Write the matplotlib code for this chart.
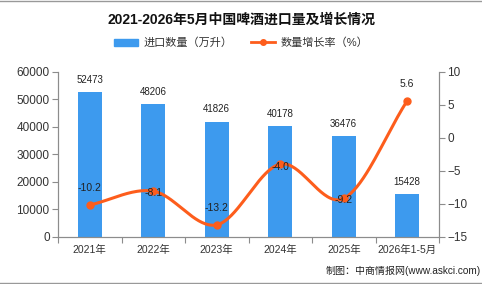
import numpy as np
import matplotlib.pyplot as plt
from matplotlib.lines import Line2D
from matplotlib.patches import Patch

plt.rcParams['font.family'] = ['Liberation Sans', 'Noto Sans CJK SC', 'DejaVu Sans']

# data
years = ['2021年', '2022年', '2023年', '2024年', '2025年', '2026年1-5月']
volume = [52473, 48206, 41826, 40178, 36476, 15428]
growth = [-10.2, -8.1, -13.2, -4.0, -9.2, 5.6]

bar_color = '#3d9aee'
line_color = '#fd5d1c'
axis_color = '#8c8c8c'
text_color = '#333333'

fig = plt.figure(figsize=(4.82, 2.84), dpi=100)
ax = fig.add_axes([58 / 482, 1 - 236.7 / 284, 381 / 482, 165 / 284])
ax2 = ax.twinx()

x = np.arange(len(years))
ax.bar(x, volume, width=0.38, color=bar_color, zorder=2)
for xi, v in zip(x, volume):
    ax.annotate(str(v), (xi, v), xytext=(0, 9), textcoords='offset points',
                ha='center', va='center', fontsize=7, color='#222222')

# smooth line through growth points (catmull-rom)
def smooth(xs, ys, n=40):
    xs = np.asarray(xs, float)
    ys = np.asarray(ys, float)
    px = np.concatenate([[2 * xs[0] - xs[1]], xs, [2 * xs[-1] - xs[-2]]])
    py = np.concatenate([[2 * ys[0] - ys[1]], ys, [2 * ys[-1] - ys[-2]]])
    ox, oy = [], []
    for i in range(1, len(px) - 2):
        t = np.linspace(0, 1, n)
        for arr, out in ((px, ox), (py, oy)):
            p0, p1, p2, p3 = arr[i - 1], arr[i], arr[i + 1], arr[i + 2]
            out.extend(0.5 * ((2 * p1) + (-p0 + p2) * t
                              + (2 * p0 - 5 * p1 + 4 * p2 - p3) * t ** 2
                              + (-p0 + 3 * p1 - 3 * p2 + p3) * t ** 3))
    return np.array(ox), np.array(oy)

sx, sy = smooth(x, growth)
ax2.plot(sx, sy, color=line_color, lw=2.2, zorder=3)
ax2.plot(x, growth, 'o', color=line_color, ms=5, zorder=4)

label_off = [12, -1, 12, -2, -1, 12]
for xi, g, off in zip(x, growth, label_off):
    ax2.annotate(f'{g:.1f}', (xi, g), xytext=(0, off), textcoords='offset points',
                 ha='center', va='center', fontsize=7.5, color='#222222', zorder=5)

ax.set_xlim(-0.5, 5.5)
ax.set_ylim(0, 60000)
ax.set_yticks(range(0, 60001, 10000))
ax2.set_ylim(-15, 10)
ax2.set_yticks(range(-15, 11, 5))

ax.set_xticks(np.arange(-0.5, 6, 1))
ax.set_xticklabels([])
ax.set_xticks(x, minor=True)
ax.set_xticklabels(years, minor=True)
ax.tick_params(axis='x', which='major', length=4, color=axis_color)
ax.tick_params(axis='x', which='minor', length=0, labelsize=7.5, labelcolor=text_color, pad=6)
ax.tick_params(axis='y', length=4, color=axis_color, labelsize=8.5, labelcolor=text_color, pad=2)
ax2.tick_params(axis='y', length=4, color=axis_color, labelsize=8.5, labelcolor=text_color, pad=2)

for a in (ax, ax2):
    a.spines['top'].set_visible(False)
    for s in ('left', 'right', 'bottom'):
        a.spines[s].set_color(axis_color)

fig.text(0.5, 1 - 20 / 284, '2021-2026年5月中国啤酒进口量及增长情况', ha='center', va='center',
         fontsize=10, fontweight='bold', color='#111111')

handles = [Patch(color=bar_color),
           Line2D([], [], color=line_color, lw=2, marker='o', ms=4)]
fig.legend(handles, ['进口数量（万升）', '数量增长率（%）'], loc='center',
           bbox_to_anchor=(0.5, 1 - 43 / 284), ncol=2, frameon=False, fontsize=8,
           handlelength=2.2, handleheight=0.7, columnspacing=1.6, handletextpad=0.5,
           labelcolor=text_color)

fig.text(0.997, 1 - 271 / 284, '制图：中商情报网(www.askci.com)', ha='right', va='center',
         fontsize=7.2, color='#222222')

fig.add_artist(Line2D([0, 1], [0.998, 0.998], color='#999999', lw=1))
fig.add_artist(Line2D([0, 1], [0.005, 0.005], color='#999999', lw=1))

fig.savefig('out.png', dpi=100)
